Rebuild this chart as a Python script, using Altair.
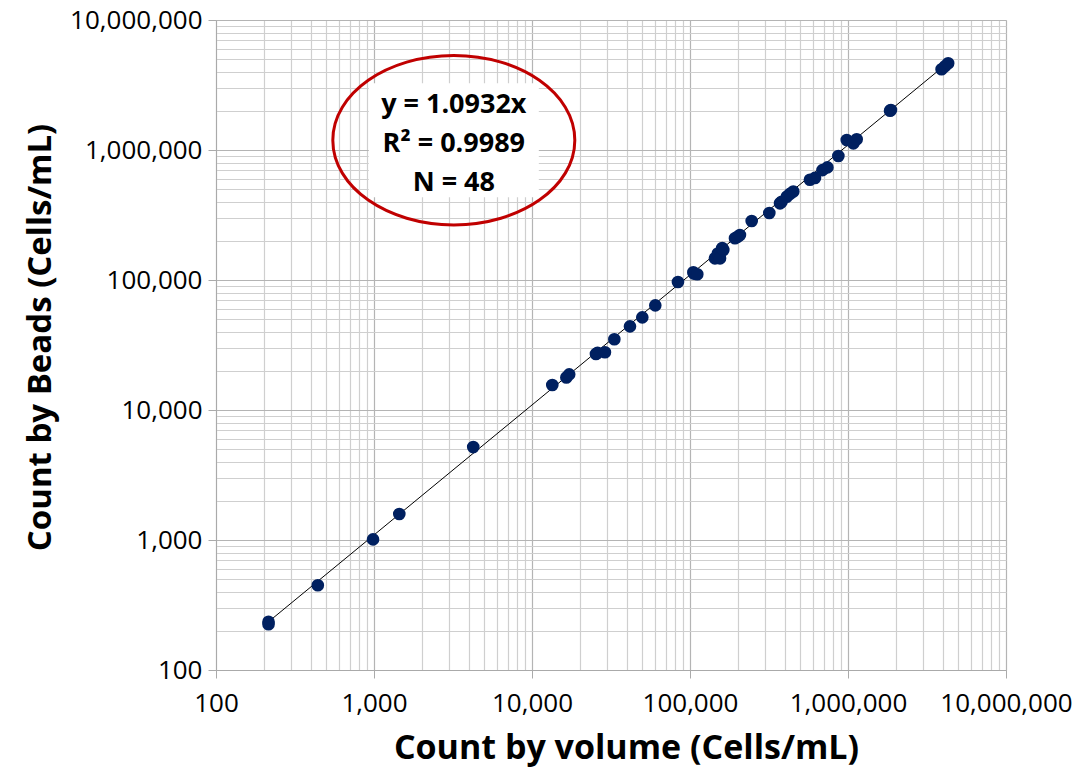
import altair as alt
import pandas as pd

# Data (Cells/mL)
count_by_volume = [215, 215, 441, 986, 1446, 4247, 13440, 16500, 17200, 25400,
                   26000, 28950, 33200, 41700, 49900, 60300, 83900, 105000, 106000, 111200,
                   143900, 150000, 154900, 162500, 160000, 192600, 200000, 207000, 245700, 317700,
                   371300, 380000, 409700, 430000, 450600, 574000, 618000, 689000, 741000, 869000,
                   982000, 1081000, 1135000, 1845000, 1870000, 3910000, 4100000, 4305000]
count_by_beads = [235, 225, 449, 1011, 1585, 5188, 15560, 17800, 18800, 27000,
                  27500, 27800, 35000, 44000, 51600, 63800, 96600, 114600, 112000, 110700,
                  146800, 160000, 146800, 170100, 176000, 209400, 215000, 221800, 284500, 327600,
                  389000, 400000, 437600, 460000, 478700, 590000, 610000, 700000, 735000, 899000,
                  1194000, 1125000, 1208000, 2006000, 2030000, 4180000, 4400000, 4645000]

slope = 1.0932
fit_x = [215, 4305000]
fit_y = [v * slope for v in fit_x]

decades = [100, 1000, 10000, 100000, 1000000, 10000000]
grid_values = [m * d for d in decades[:-1] for m in range(1, 10)] + [decades[-1]]

annot_lines = ["y = 1.0932x", "R\u00b2 = 0.9989", "N = 48"]
annot_x = 3200
annot_y = [2200000, 1110000, 560000]
ellipse_center = (3200, 1190000)

pts = pd.DataFrame({"x": count_by_volume, "y": count_by_beads})
fit = pd.DataFrame({"x": fit_x, "y": fit_y})
ann = pd.DataFrame({"x": [annot_x] * 3, "y": annot_y, "t": annot_lines})
ell = pd.DataFrame({"x": [ellipse_center[0]], "y": [ellipse_center[1]]})

major_test = "abs(log(datum.value)/LN10 - round(log(datum.value)/LN10)) < 0.0001"

def make_axis(title, is_x):
    extra = {"titleX": 410} if is_x else {"titleY": 317}
    return alt.Axis(
        title=title,
        values=grid_values,
        labelExpr="abs(log(datum.value)/LN10 - round(log(datum.value)/LN10)) < 0.0001 ? format(datum.value, ',') : ''",
        labelFont="Open Sans",
        labelFontSize=26,
        labelColor="#000000",
        labelPadding=12 if is_x else 6,
        labelOverlap=False,
        labelFlush=False,
        labelBound=False,
        titleFont="Open Sans",
        titleFontWeight="bold",
        titleFontSize=34 if is_x else 33,
        titleColor="#000000",
        titlePadding=15 if is_x else 12,
        grid=True,
        gridColor={"condition": {"test": major_test, "value": "#b4b4b4"}, "value": "#cfcfcf"},
        gridWidth=1.2,
        domainColor="#aaaaaa",
        tickColor="#aaaaaa",
        tickSize={"condition": {"test": major_test, "value": 8}, "value": 0},
        **extra,
    )

xscale = alt.Scale(type="log", domain=[100, 10000000], nice=False)
yscale = alt.Scale(type="log", domain=[100, 10000000], nice=False)

base_x = alt.X("x:Q", scale=xscale, axis=make_axis("Count by volume (Cells/mL)", True))
base_y = alt.Y("y:Q", scale=yscale, axis=make_axis("Count by Beads (Cells/mL)", False))

line = alt.Chart(fit).mark_line(color="#000000", strokeWidth=1).encode(x=base_x, y=base_y)

points = alt.Chart(pts).mark_circle(size=160, color="#002060", opacity=1).encode(
    x=alt.X("x:Q", scale=xscale), y=alt.Y("y:Q", scale=yscale))

ellipse_path = "M -1 0 A 1 0.70 0 1 1 1 0 A 1 0.70 0 1 1 -1 0 Z"
ellipse = alt.Chart(ell).mark_point(
    shape=ellipse_path, size=242 * 242, filled=False, stroke="#c00000",
    strokeWidth=3, opacity=1, fill="#ffffff", fillOpacity=0
).encode(x=alt.X("x:Q", scale=xscale), y=alt.Y("y:Q", scale=yscale))

textbox = alt.Chart(ell).mark_rect(color="#ffffff").transform_calculate(
    x="3200/pow(10, 85/158)", x2="3200*pow(10, 85/158)",
    y="1190000/pow(10, 57/130)", y2="1190000*pow(10, 57/130)"
).encode(x=alt.X("x:Q", scale=xscale), y=alt.Y("y:Q", scale=yscale), x2="x2:Q", y2="y2:Q")

text = alt.Chart(ann).mark_text(
    font="Open Sans", fontWeight="bold", fontSize=27, color="#000000", align="center", baseline="middle"
).encode(x=alt.X("x:Q", scale=xscale), y=alt.Y("y:Q", scale=yscale), text="t:N")

chart = alt.layer(line, points, textbox, ellipse, text).properties(
    width=790, height=650,
    autosize=alt.AutoSizeParams(type="none"),
    padding={"left": 216, "top": 20, "right": 72, "bottom": 102},
).configure_view(stroke=None).configure(background="#ffffff")

chart.save("out.html", embed_options={"renderer": "svg", "actions": False})
